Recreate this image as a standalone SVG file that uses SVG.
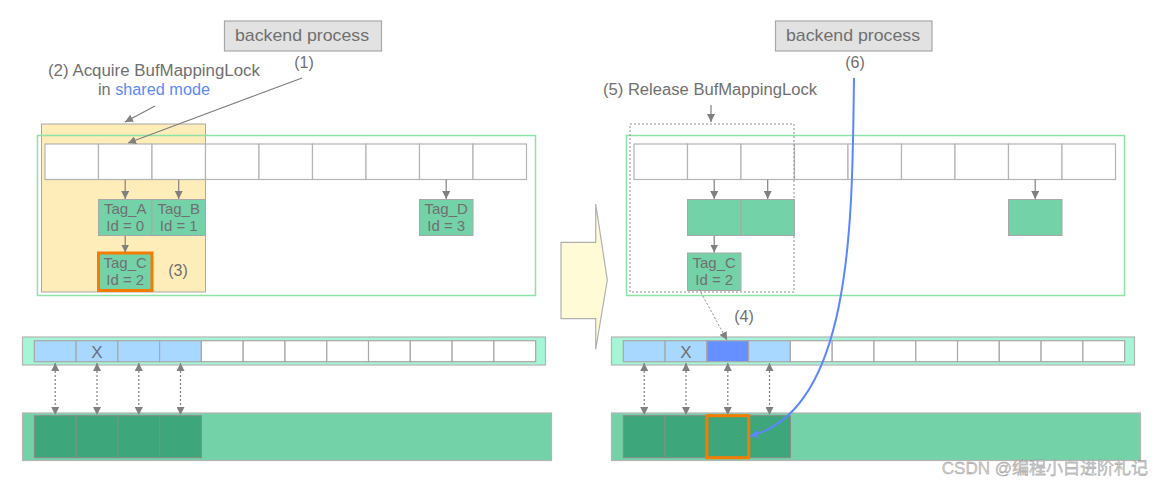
<svg xmlns="http://www.w3.org/2000/svg" width="1165" height="487" viewBox="0 0 1165 487">
<style>
text{font-family:"Liberation Sans",Arial,sans-serif;fill:#707070}
.lbl{font-size:16px}
.tag{font-size:15px;text-anchor:middle}
.proc{fill:#e2e2e2;stroke:#a8a8a8;stroke-width:1.2}
.cell{fill:#ffffff;stroke:#b4b4b4;stroke-width:1.2}
.outer{fill:none;stroke:#8ee3a6;stroke-width:1.5}
.tagbox{fill:#74d2a9;stroke:#a8a8a8;stroke-width:1}
.bcell{fill:#ffffff;stroke:#a8a8a8;stroke-width:1.2}
.lb{fill:#a8d8ff}
.aq{fill:#a6f5d6;stroke:#b4b4b4;stroke-width:1.2}
.bar{fill:#74d2a9;stroke:#b4b4b4;stroke-width:1.2}
.dk{fill:#3ea67b;stroke:#8a8a8a;stroke-width:1}
.or{fill:none;stroke:#f57c00;stroke-width:3}
.arr{fill:none;stroke:#808080;stroke-width:1.2;marker-end:url(#ah)}
.dbl{fill:none;stroke:#808080;stroke-width:1.2;stroke-dasharray:2 2;marker-start:url(#ah);marker-end:url(#ah)}
.dot{fill:none;stroke:#909090;stroke-width:1;stroke-dasharray:2 2}
</style>
<defs>
<marker id="ah" markerUnits="userSpaceOnUse" markerWidth="8" markerHeight="8" refX="8" refY="4" orient="auto-start-reverse"><path d="M0,0 L8,4 L0,8 z" fill="#808080"/></marker>
<marker id="ahb" markerUnits="userSpaceOnUse" markerWidth="9" markerHeight="8" refX="8" refY="4" orient="auto"><path d="M0,0 L8,4 L0,8 z" fill="#5b86ff"/></marker>
</defs>
<rect width="1165" height="487" fill="#ffffff"/>

<!-- LEFT PANEL -->
<g id="yellow-lock"><rect x="41.5" y="124" width="164" height="168" fill="#feedb8" stroke="#a8a8a8" stroke-width="1"/></g>
<g id="left-table"><rect class="outer" x="37.5" y="135.5" width="498" height="160"/></g>
<g id="left-slots">
<rect class="cell" x="45" y="144" width="53.5" height="35.5"/>
<rect class="cell" x="98.5" y="144" width="53.5" height="35.5"/>
<rect class="cell" x="152" y="144" width="53.5" height="35.5"/>
<rect class="cell" x="205.5" y="144" width="53.5" height="35.5"/>
<rect class="cell" x="259" y="144" width="53.5" height="35.5"/>
<rect class="cell" x="312.5" y="144" width="53.5" height="35.5"/>
<rect class="cell" x="366" y="144" width="53.5" height="35.5"/>
<rect class="cell" x="419.5" y="144" width="53.5" height="35.5"/>
<rect class="cell" x="473" y="144" width="53.5" height="35.5"/>
</g>
<g id="left-backend"><rect class="proc" x="224.5" y="21" width="157" height="30"/><text x="235" y="41" font-size="17" textLength="134" lengthAdjust="spacingAndGlyphs">backend process</text></g>
<g id="left-tagA"><rect class="tagbox" x="98.5" y="199.5" width="53.5" height="36"/><text class="tag" x="125.2" y="213.5">Tag_A</text><text class="tag" x="125.2" y="230.5">Id = 0</text></g>
<g id="left-tagB"><rect class="tagbox" x="152" y="199.5" width="53.5" height="36"/><text class="tag" x="178.7" y="213.5">Tag_B</text><text class="tag" x="178.7" y="230.5">Id = 1</text></g>
<g id="left-tagC"><rect class="tagbox" x="98.5" y="253" width="53.5" height="37.5"/><rect class="or" x="98.5" y="253" width="53.5" height="37.5"/><text class="tag" x="125.2" y="267.5">Tag_C</text><text class="tag" x="125.2" y="284.5">Id = 2</text></g>
<g id="left-tagD"><rect class="tagbox" x="419.5" y="199.5" width="53.5" height="36"/><text class="tag" x="446.2" y="213.5">Tag_D</text><text class="tag" x="446.2" y="230.5">Id = 3</text></g>
<g id="left-labels">
<text class="lbl" x="304" y="68" text-anchor="middle" font-size="15">(1)</text>
<text class="lbl" x="48" y="76" textLength="212" lengthAdjust="spacingAndGlyphs">(2) Acquire BufMappingLock</text>
<text class="lbl" x="98" y="95" textLength="112" lengthAdjust="spacingAndGlyphs">in <tspan fill="#5c8aff">shared mode</tspan></text>
<text class="lbl" x="178" y="276" text-anchor="middle" font-size="15">(3)</text>
</g>
<g id="left-descriptors">
<rect class="aq" x="22.5" y="337" width="523" height="28"/>
<rect class="bcell lb" x="34.3" y="340.7" width="41.78" height="21"/>
<rect class="bcell lb" x="76.1" y="340.7" width="41.78" height="21"/>
<rect class="bcell lb" x="117.9" y="340.7" width="41.78" height="21"/>
<rect class="bcell lb" x="159.6" y="340.7" width="41.78" height="21"/>
<rect class="bcell" x="201.4" y="340.7" width="41.78" height="21"/>
<rect class="bcell" x="243.2" y="340.7" width="41.78" height="21"/>
<rect class="bcell" x="285" y="340.7" width="41.78" height="21"/>
<rect class="bcell" x="326.8" y="340.7" width="41.78" height="21"/>
<rect class="bcell" x="368.5" y="340.7" width="41.78" height="21"/>
<rect class="bcell" x="410.3" y="340.7" width="41.78" height="21"/>
<rect class="bcell" x="452.1" y="340.7" width="41.78" height="21"/>
<rect class="bcell" x="493.9" y="340.7" width="41.78" height="21"/>
<text x="97" y="357.5" font-size="17" text-anchor="middle">X</text>
</g>
<g id="left-pool">
<rect class="bar" x="22.5" y="413" width="529" height="47.5"/>
<rect class="dk" x="34.3" y="415.7" width="41.78" height="42"/>
<rect class="dk" x="76.1" y="415.7" width="41.78" height="42"/>
<rect class="dk" x="117.9" y="415.7" width="41.78" height="42"/>
<rect class="dk" x="159.6" y="415.7" width="41.78" height="42"/>
</g>

<!-- TRANSITION ARROW -->
<g id="transition"><polygon points="561,242.3 595.7,242.3 595.7,204 607.3,280 595.7,349.3 595.7,318.7 561,318.7" fill="#fffbd6" stroke="#b0b0b0" stroke-width="1.2"/></g>

<!-- RIGHT PANEL -->
<g id="right-table"><rect class="outer" x="626.5" y="135.5" width="498" height="160"/></g>
<g id="right-slots">
<rect class="cell" x="634" y="144" width="53.5" height="35.5"/>
<rect class="cell" x="687.5" y="144" width="53.5" height="35.5"/>
<rect class="cell" x="741" y="144" width="53.5" height="35.5"/>
<rect class="cell" x="794.5" y="144" width="53.5" height="35.5"/>
<rect class="cell" x="848" y="144" width="53.5" height="35.5"/>
<rect class="cell" x="901.5" y="144" width="53.5" height="35.5"/>
<rect class="cell" x="955" y="144" width="53.5" height="35.5"/>
<rect class="cell" x="1008.5" y="144" width="53.5" height="35.5"/>
<rect class="cell" x="1062" y="144" width="53.5" height="35.5"/>
</g>
<g id="right-lock"><rect class="dot" x="630" y="124" width="164" height="168"/></g>
<g id="right-backend"><rect class="proc" x="775.5" y="21" width="156.5" height="30"/><text x="786" y="41" font-size="17" textLength="134" lengthAdjust="spacingAndGlyphs">backend process</text></g>
<g id="right-entryA"><rect class="tagbox" x="687.5" y="199.5" width="53.5" height="36"/></g>
<g id="right-entryB"><rect class="tagbox" x="741" y="199.5" width="53.5" height="36"/></g>
<g id="right-tagC"><rect class="tagbox" x="687.5" y="253" width="53.5" height="37.5"/><text class="tag" x="714.2" y="267.5">Tag_C</text><text class="tag" x="714.2" y="284.5">Id = 2</text></g>
<g id="right-entryD"><rect class="tagbox" x="1008.5" y="199.5" width="53.5" height="36"/></g>
<g id="right-labels">
<text class="lbl" x="855" y="68" text-anchor="middle" font-size="15">(6)</text>
<text class="lbl" x="603" y="95" textLength="214" lengthAdjust="spacingAndGlyphs">(5) Release BufMappingLock</text>
<text class="lbl" x="744" y="322" text-anchor="middle" font-size="15">(4)</text>
</g>
<g id="right-descriptors">
<rect class="aq" x="611.5" y="337" width="523" height="28"/>
<rect class="bcell lb" x="623.3" y="340.7" width="41.78" height="21"/>
<rect class="bcell lb" x="665.1" y="340.7" width="41.78" height="21"/>
<rect class="bcell" x="706.9" y="340.7" width="41.78" height="21" style="fill:#6690ff"/>
<rect class="bcell lb" x="748.6" y="340.7" width="41.78" height="21"/>
<rect class="bcell" x="790.4" y="340.7" width="41.78" height="21"/>
<rect class="bcell" x="832.2" y="340.7" width="41.78" height="21"/>
<rect class="bcell" x="874" y="340.7" width="41.78" height="21"/>
<rect class="bcell" x="915.8" y="340.7" width="41.78" height="21"/>
<rect class="bcell" x="957.5" y="340.7" width="41.78" height="21"/>
<rect class="bcell" x="999.3" y="340.7" width="41.78" height="21"/>
<rect class="bcell" x="1041.1" y="340.7" width="41.78" height="21"/>
<rect class="bcell" x="1082.9" y="340.7" width="41.78" height="21"/>
<text x="686" y="357.5" font-size="17" text-anchor="middle">X</text>
</g>
<g id="right-pool">
<rect class="bar" x="611.5" y="413" width="529" height="47.5"/>
<rect class="dk" x="623.3" y="415.7" width="41.78" height="42"/>
<rect class="dk" x="665.1" y="415.7" width="41.78" height="42"/>
<rect class="dk" x="706.9" y="415.7" width="41.78" height="42"/>
<rect class="dk" x="748.6" y="415.7" width="41.78" height="42"/>
<rect class="or" x="706.9" y="415.7" width="41.78" height="42"/>
</g>

<!-- CONNECTORS -->
<g id="connectors">
<path class="arr" d="M302,78 L128,143"/>
<path class="arr" d="M155,106 L125,122"/>
<path class="arr" d="M125.2,179.5 L125.2,199"/>
<path class="arr" d="M178.7,179.5 L178.7,199"/>
<path class="arr" d="M446.2,179.5 L446.2,199"/>
<path class="arr" d="M125.2,235.7 L125.2,252.5"/>
<path class="dbl" d="M55.2,363 L55.2,415"/>
<path class="dbl" d="M97,363 L97,415"/>
<path class="dbl" d="M138.8,363 L138.8,415"/>
<path class="dbl" d="M180.5,363 L180.5,415"/>
<path class="arr" d="M711,105 L711,122"/>
<path class="arr" d="M714.2,179.5 L714.2,199"/>
<path class="arr" d="M767.7,179.5 L767.7,199"/>
<path class="arr" d="M1035.2,179.5 L1035.2,199"/>
<path class="arr" d="M714.2,235.7 L714.2,252.5"/>
<path class="dbl" d="M644.2,363 L644.2,415"/>
<path class="dbl" d="M686,363 L686,415"/>
<path class="dbl" d="M727.8,363 L727.8,415"/>
<path class="dbl" d="M769.5,363 L769.5,415"/>
<path d="M699,289 L727,340" fill="none" stroke="#909090" stroke-width="1" stroke-dasharray="2 2" marker-end="url(#ah)"/>
<path d="M854,78 C852,210 855,410 750,436" fill="none" stroke="#5b86ff" stroke-width="2" marker-end="url(#ahb)"/>
</g>

<text x="1148" y="474" font-size="17" text-anchor="end" style="fill:#d0d0d0;stroke:#8a8a8a;stroke-width:0.3;font-family:'Liberation Sans','Noto Sans CJK SC',sans-serif">CSDN @编程小白进阶札记</text>
</svg>
